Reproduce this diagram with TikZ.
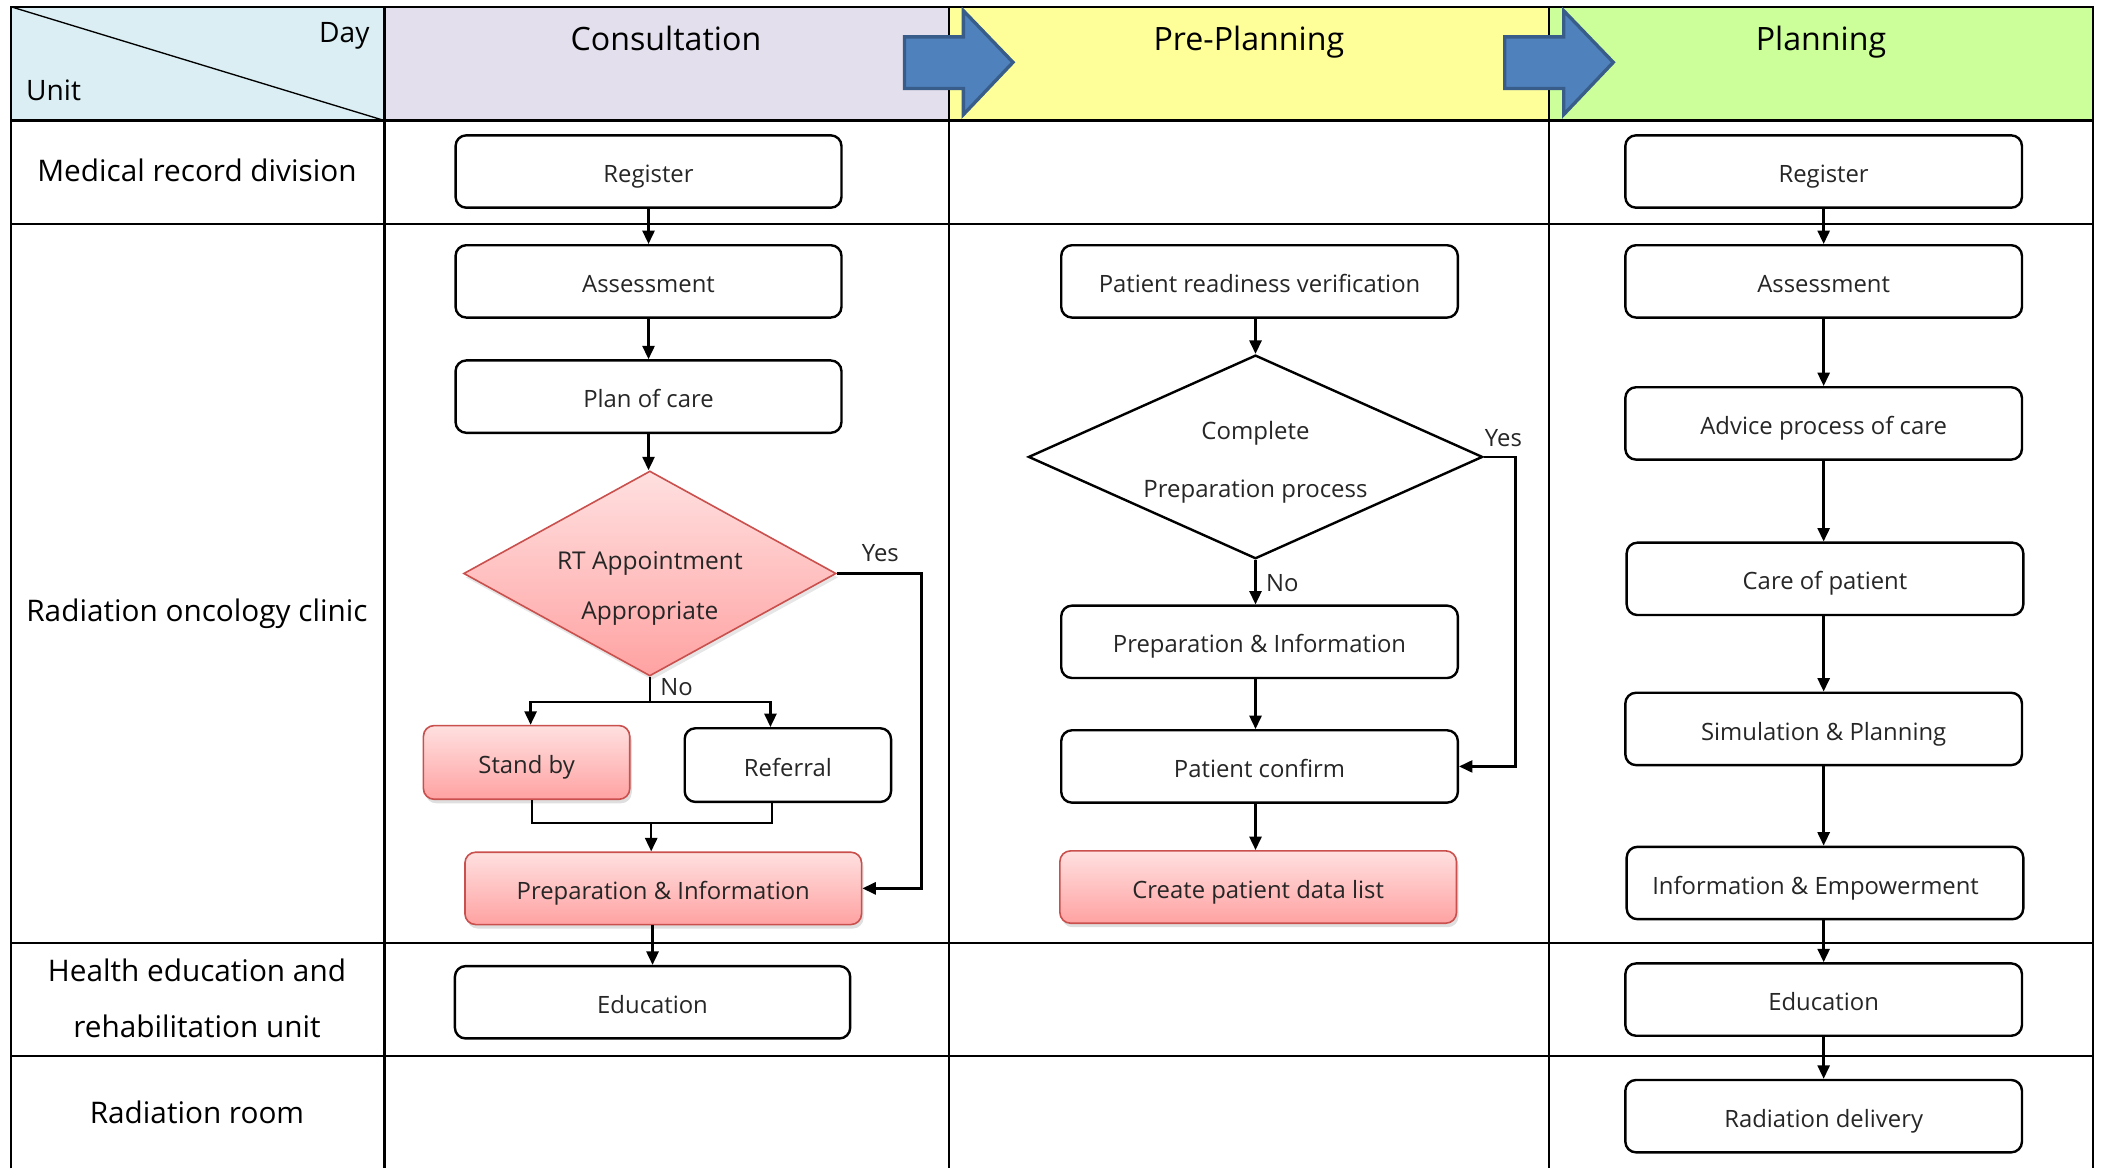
\documentclass[tikz,border=0pt]{standalone}
\usepackage{fontspec}
\setmainfont{Open Sans}
\usetikzlibrary{arrows.meta,shapes.geometric,shadows,calc}
\definecolor{hdrA}{HTML}{DAEEF3}
\definecolor{hdrB}{HTML}{E4DFEC}
\definecolor{hdrC}{HTML}{FFFF99}
\definecolor{hdrD}{HTML}{CCFF99}
\definecolor{arrFill}{HTML}{4F81BD}
\definecolor{arrLine}{HTML}{385D8A}
\definecolor{pkTop}{HTML}{FFE0E0}
\definecolor{pkBot}{HTML}{FFA2A2}
\definecolor{pkLine}{HTML}{C9504D}
\begin{document}
\begin{tikzpicture}[x=1pt,y=-1pt,
  grid/.style={line width=1.7pt},
  box/.style={draw, line width=1.8pt, rounded corners=8pt, minimum width=296pt, minimum height=54pt, inner sep=0pt,
              font=\fontsize{17.8}{21}\selectfont, text=black!85, text height=16.6pt, text depth=0pt},
  pinkbox/.style={box, draw=pkLine, line width=1.2pt, top color=pkTop, bottom color=pkBot, drop shadow={opacity=0.25, shadow xshift=1.5pt, shadow yshift=-3pt}},
  arr/.style={line width=1.8pt, -{Triangle[length=10pt,width=9pt]}},
  ln/.style={line width=1.8pt},
  hdr/.style={font=\fontsize{24}{28}\selectfont, anchor=base},
  rowlab/.style={font=\fontsize{22.2}{42}\selectfont, align=center},
  lab/.style={font=\fontsize{17.8}{21}\selectfont, text=black!85, inner sep=0pt},
  bigarrow/.style={fill=arrFill, draw=arrLine, line width=2.5pt, line join=miter}
]
\useasboundingbox (0,0) rectangle (1568,872);
% header fills
\fill[hdrA] (8,5) rectangle (287,90);
\fill[hdrB] (287,5) rectangle (708,90);
\fill[hdrC] (708,5) rectangle (1156,90);
\fill[hdrD] (1156,5) rectangle (1562,90);
% grid
\draw[grid] (8,872) -- (8,5) -- (1562,5) -- (1562,872);
\foreach \yy in {90,167,704,788} \draw[grid] (8,\yy) -- (1562,\yy);
\foreach \xx in {287,708,1156} \draw[grid] (\xx,5) -- (\xx,872);
\draw[line width=1pt] (8,5) -- (287,90);
% big arrows
\draw[bigarrow] (675,27.5) -- (719,27.5) -- (719,8) -- (756,46.5) -- (719,85.5) -- (719,66) -- (675,66) -- cycle;
\draw[bigarrow] (1123,27.5) -- (1167,27.5) -- (1167,8) -- (1204,46.5) -- (1167,85.5) -- (1167,66) -- (1123,66) -- cycle;
% header texts
\node[font=\fontsize{21}{24}\selectfont] (day) at (257,27) {Day};
\node[font=\fontsize{21}{24}\selectfont] (unit) at (40,67.5) {Unit};
\node[hdr] (hC) at (497,37.5) {Consultation};
\node[hdr] (hP) at (932,37.5) {Pre-Planning};
\node[hdr] (hL) at (1359,37.5) {Planning};
% row labels
\node[rowlab] (rA) at (147,127) {Medical record division};
\node[rowlab] (rB) at (147,458) {Radiation oncology clinic};
\node[rowlab] (rC) at (147,745) {Health education and\\rehabilitation unit};
\node[rowlab] (rD) at (147,830) {Radiation room};

% ---- Consultation column
\node[box, minimum width=288pt] (c1) at (484,128) {Register};
\node[box, minimum width=288pt] (c2) at (484,210) {Assessment};
\node[box, minimum width=288pt] (c3) at (484,296) {Plan of care};
\node[diamond, aspect=1.8, inner sep=0pt, draw=pkLine, line width=1.2pt, top color=pkTop, bottom color=pkBot,
      drop shadow={opacity=0.2, shadow xshift=1.5pt, shadow yshift=-3pt},
      minimum width=278pt, minimum height=153pt, align=center,
      font=\fontsize{18.3}{37}\selectfont, text=black!85, text height=72pt, text depth=4pt] (cd) at (485,428) {RT Appointment\\Appropriate};
\node[pinkbox, minimum width=154pt, minimum height=55pt] (sb) at (393,569) {Stand by};
\node[box, minimum width=154pt, minimum height=55pt] (rf) at (588,571) {Referral};
\node[pinkbox] (ci) at (495,663) {Preparation \& Information};
\node[box, minimum width=295pt] (ce) at (487,748) {Education};

\draw[arr] (c1) -- (c2);
\draw[arr] (c2) -- (c3);
\draw[arr] (c3.south) -- (c3.south |- cd.north);
\draw[arr] (cd.east) -| ([xshift=44pt]ci.east) -- (ci.east);
\node[lab] (cyes) at (657,413) {Yes};
\coordinate (nj) at (485,524);
\draw[ln] (cd.south) -- (nj);
\draw[arr] (nj) -| ([xshift=3pt]sb.north);
\draw[arr] (nj) -| ([xshift=-13pt]rf.north);
\node[lab] (cno) at (505,513) {No};
\coordinate (mj) at (486,614);
\draw[ln] ([xshift=4pt]sb.south) |- (mj) -| ([xshift=-12pt]rf.south);
\draw[arr] (mj) -- (mj |- ci.north);
\draw[arr] (ce.north |- ci.south) -- (ce.north);

% ---- Pre-Planning column
\node[box] (p1) at (940,210) {Patient readiness verification};
\node[diamond, aspect=2.2, inner sep=0pt, draw, line width=1.8pt, fill=white,
      minimum width=339pt, minimum height=152pt, align=center,
      font=\fontsize{17.9}{43}\selectfont, text=black!85, text height=64pt, text depth=4pt] (pd) at (937,341) {Complete\\Preparation process};
\node[box] (p2) at (940,479) {Preparation \& Information};
\node[box] (pc) at (940,572) {Patient confirm};
\node[pinkbox] (pl) at (939,662) {Create patient data list};

\draw[arr] (pd.north |- p1.south) -- (pd.north);
\draw[arr] (pd.east) -| ([xshift=42pt]pc.east) -- (pc.east);
\node[lab] (pyes) at (1122,327) {Yes};
\draw[arr] (pd.south) -- (pd.south |- p2.north);
\node[lab] (pno) at (957,435) {No};
\draw[arr] (pd.south |- p2.south) -- (pd.south |- pc.north);
\draw[arr] (pd.south |- pc.south) -- (pd.south |- pl.north);

% ---- Planning column
\node[box] (l1) at (1361,128) {Register};
\node[box] (l2) at (1361,210) {Assessment};
\node[box] (l3) at (1361,316) {Advice process of care};
\node[box] (l4) at (1362,432) {Care of patient};
\node[box] (l5) at (1361,544) {Simulation \& Planning};
\node[box] (l6) at (1362,659) {Information \& Empowerment\kern14pt};
\node[box] (l7) at (1361,746) {Education};
\node[box] (l8) at (1361,833) {Radiation delivery};

\draw[arr] (l1.south) -- (l1.south |- l2.north);
\draw[arr] (l2.south) -- (l2.south |- l3.north);
\draw[arr] (l3.south) -- (l3.south |- l4.north);
\draw[arr] (l1.south |- l4.south) -- (l1.south |- l5.north);
\draw[arr] (l5.south) -- (l5.south |- l6.north);
\draw[arr] (l1.south |- l6.south) -- (l1.south |- l7.north);
\draw[arr] (l7.south) -- (l7.south |- l8.north);
\end{tikzpicture}
\end{document}
